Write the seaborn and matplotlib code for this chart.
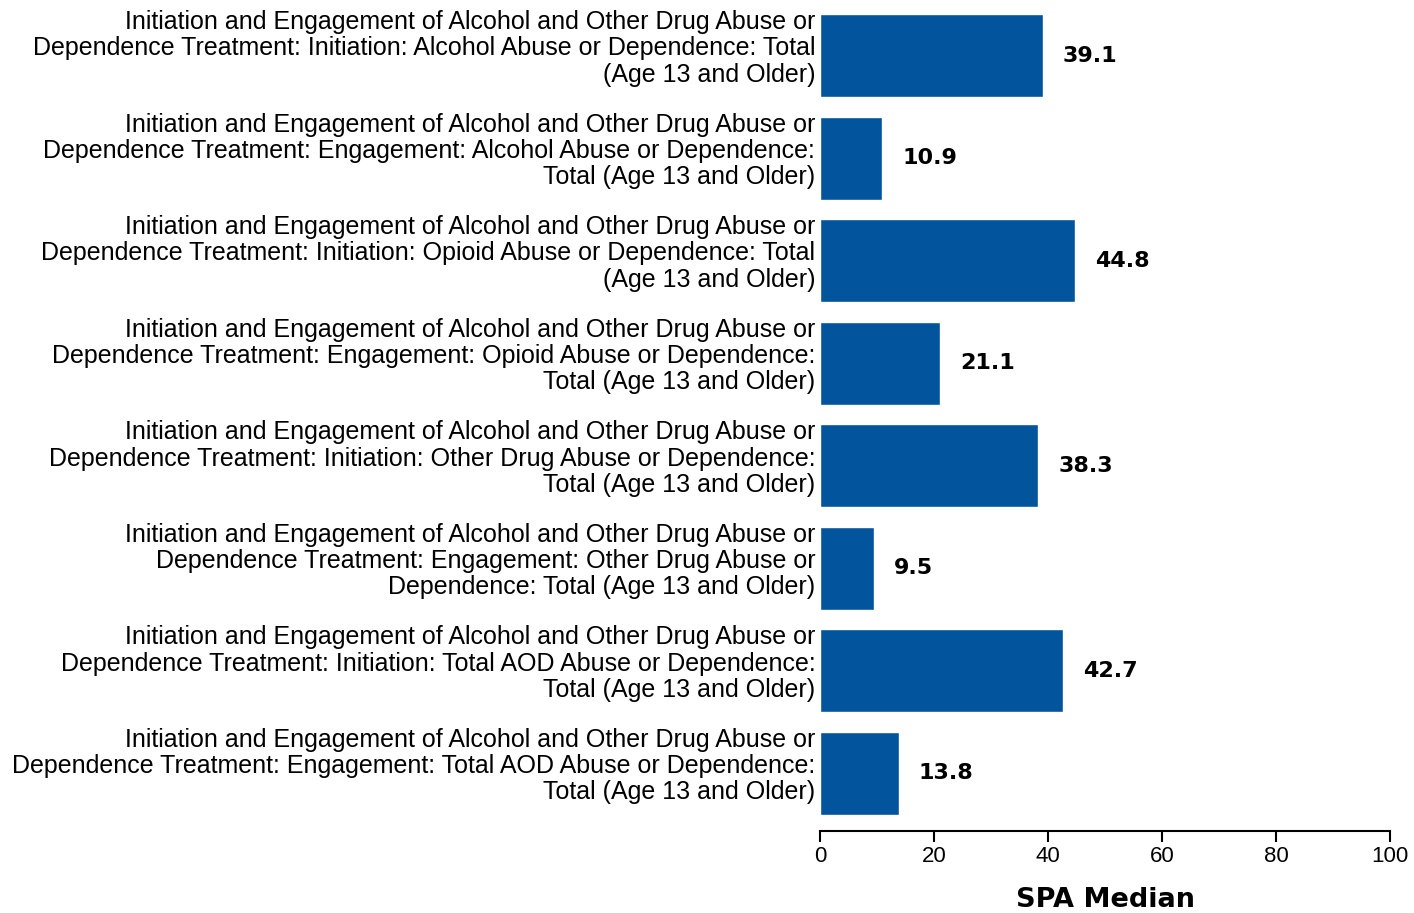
import matplotlib
matplotlib.use("Agg")
import matplotlib.pyplot as plt
import matplotlib.transforms as mtransforms
import seaborn as sns
import pandas as pd

# measure labels, wrapped as in the original chart
labels = [
    "Initiation and Engagement of Alcohol and Other Drug Abuse or\nDependence Treatment: Initiation: Alcohol Abuse or Dependence: Total\n(Age 13 and Older)",
    "Initiation and Engagement of Alcohol and Other Drug Abuse or\nDependence Treatment: Engagement: Alcohol Abuse or Dependence:\nTotal (Age 13 and Older)",
    "Initiation and Engagement of Alcohol and Other Drug Abuse or\nDependence Treatment: Initiation: Opioid Abuse or Dependence: Total\n(Age 13 and Older)",
    "Initiation and Engagement of Alcohol and Other Drug Abuse or\nDependence Treatment: Engagement: Opioid Abuse or Dependence:\nTotal (Age 13 and Older)",
    "Initiation and Engagement of Alcohol and Other Drug Abuse or\nDependence Treatment: Initiation: Other Drug Abuse or Dependence:\nTotal (Age 13 and Older)",
    "Initiation and Engagement of Alcohol and Other Drug Abuse or\nDependence Treatment: Engagement: Other Drug Abuse or\nDependence: Total (Age 13 and Older)",
    "Initiation and Engagement of Alcohol and Other Drug Abuse or\nDependence Treatment: Initiation: Total AOD Abuse or Dependence:\nTotal (Age 13 and Older)",
    "Initiation and Engagement of Alcohol and Other Drug Abuse or\nDependence Treatment: Engagement: Total AOD Abuse or Dependence:\nTotal (Age 13 and Older)",
]
medians = [39.1, 10.9, 44.8, 21.1, 38.3, 9.5, 42.7, 13.8]
xticks = [0, 20, 40, 60, 80, 100]

df = pd.DataFrame({"measure": labels, "median": medians})

sns.set_style("white")
plt.rcParams["font.family"] = ["Liberation Sans", "DejaVu Sans"]
plt.rcParams["text.color"] = "black"
plt.rcParams["axes.labelcolor"] = "black"
plt.rcParams["xtick.color"] = "black"
plt.rcParams["ytick.color"] = "black"

fig = plt.figure(figsize=(14.14, 9.13), dpi=100)
ax = fig.add_axes([0.58, 0.09, 0.403, 0.905])

sns.barplot(data=df, x="median", y="measure", color="#02549c",
            saturation=1, width=0.81, ax=ax)

for i, v in enumerate(medians):
    ax.text(v + 3.5, i, f"{v:.1f}", va="center", ha="left",
            fontsize=16, fontweight="bold", family="DejaVu Sans", color="black")

ax.set_xlim(0, 100)
ax.set_ylim(7.56, -0.5)
ax.set_xticks(xticks)
ax.set_xticklabels([str(t) for t in xticks], fontsize=16)
ax.tick_params(axis="x", bottom=True, direction="out", length=8, width=1.5,
               color="black", pad=3)
ax.tick_params(axis="y", left=False, length=0, labelsize=18, pad=3.5)

# labels sit a little above the bar centre in the original
shift = mtransforms.ScaledTranslation(0, 11 / 100, fig.dpi_scale_trans)
for lab in ax.get_yticklabels():
    lab.set_multialignment("right")
    lab.set_linespacing(1.12)
    lab.set_transform(lab.get_transform() + shift)

for s in ["top", "right", "left"]:
    ax.spines[s].set_visible(False)
ax.spines["bottom"].set_linewidth(1.5)
ax.spines["bottom"].set_color("black")

ax.set_ylabel("")
ax.set_xlabel("SPA Median", fontsize=19.5, fontweight="bold", family="DejaVu Sans",
              labelpad=14)

fig.savefig("out.png", dpi=100)
